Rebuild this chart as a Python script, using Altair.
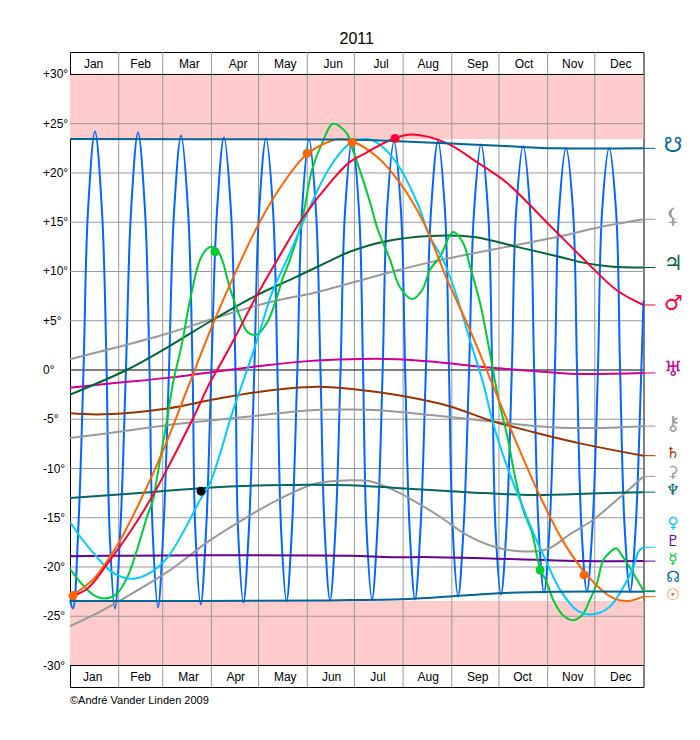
import altair as alt
import pandas as pd

FONT = "Liberation Sans"
months = ["Jan","Feb","Mar","Apr","May","Jun","Jul","Aug","Sep","Oct","Nov","Dec"]
month_edges = [31,59,90,120,151,181,212,243,273,304,334]
top_label_days = [15,45,76,107,137,167.5,198,228,259.5,289,320,350.5]
bot_label_days = [14.5,45,75.5,105.5,137,166.5,196,228,259.5,288,320,350.5]
top_label_dec = 31.1
bot_label_dec = -31.17
y_ticks = [30,25,20,15,10,5,0,-5,-10,-15,-20,-25,-30]
y_tick_text = ["+30°","+25°","+20°","+15°","+10°","+5°","0°","-5°","-10°","-15°","-20°","-25°","-30°"]
y_tick_day = -17.2
gray_levels = [25,20,15,10,5,-5,-10,-15,-20,-25]
black_levels = [30,0,-30]
y_domain = [-32.18, 32.28]
x_domain = [0, 365]

moon_d = [0,1.9,5.3,8.6,11.4,15.9,20.4,23.3,25.1,28.6,32.1,35.6,38.8,43.3,47.8,50.6,52.5,56,59.5,63,66.2,70.7,75.2,78,79.7,83.2,86.7,90,93.5,98,102.5,105.3,106.9,110.4,113.9,117.3,120.3,124.8,129.3,132,134.3,137.8,141.3,144.7,147.6,152.1,156.6,159.4,162,165.5,169,172.2,175,179.5,184,186.5,188.7,192.2,195.7,199,201.7,206.2,210.7,213.3,216.1,219.6,223.1,226.5,229.7,234.2,238.7,241.2,243.5,247,250.5,254,257.1,261.6,266.1,268.7,270.8,274.3,277.8,281.2,283.9,288.4,292.9,295.4,298.2,301.7,305.2,308.6,311.2,315.7,320.2,322.7,325.5,329,332.5,336,338.6,343.1,347.6,350.1,353,356.5,360,363.6,365]
moon_v = [-23.4,-24.2,-16,0,16,24.2,16,0,-16,-24.2,-16,0,16,24.1,16,0,-16,-24.1,-16,0,16,23.8,16,0,-16,-23.8,-16,0,16,23.6,16,0,-16,-23.6,-16,0,16,23.5,16,0,-16,-23.5,-16,0,16,23.4,16,0,-16,-23.4,-16,0,16,23.3,16,0,-16,-23.3,-16,0,16,23.2,16,0,-16,-23.3,-16,0,16,23.2,16,0,-16,-23,-16,0,16,22.9,16,0,-16,-22.8,-16,0,16,22.7,16,0,-16,-22.6,-16,0,16,22.5,16,0,-16,-22.5,-16,0,16,22.5,16,0,-16,-22.5,-16,0,7]

sun_d = [0,15,30,45,60,75,90,105,120,135,150,165,172,180,195,210,225,240,255,270,285,300,315,330,345,355,365]
sun_v = [-23,-21.2,-17.8,-13.2,-7.9,-1.8,4.3,9.8,14.8,18.8,21.8,23.2,23.44,23.2,21.7,19,15,9.2,3.9,-1.9,-7.7,-13.1,-17.7,-21,-23.1,-23.44,-23]

mars_d = [0,11,25.5,38,51,62,78,89,94,104,119,132,148,167,178,189,206,218,240,259,278,304,326,348,365]
mars_v = [-23,-22.2,-19.3,-16.5,-13.2,-10,-5,-1.3,0.1,3,7.6,11.2,15.4,19.3,21.1,22.1,23.5,23.9,23,21.1,19,14.9,11.4,8.1,6.6]

venus_d = [0,6.4,17.2,27.4,40.1,50.9,61.7,71.9,82.8,89.1,103.8,112.7,119,129.2,138.1,152.8,165.5,178.2,191,199.2,210,220.9,229.2,237.4,246.3,254.6,262.9,269.3,278.2,286.4,294,303.6,311.9,322.7,332.9,343.7,352,358.4,362,365]
venus_v = [-15.4,-16.9,-19,-20.6,-21.2,-20.6,-19.1,-16.5,-13.2,-11.5,-4.1,0,3,8.1,11.2,16.6,20.6,23,23.4,22.6,20.5,17,13.5,11.2,7.4,3,-1.3,-5.4,-9.8,-13.2,-16.2,-19.6,-22.3,-24.4,-24.8,-24,-22.1,-20.1,-18.4,-18]

mercury_d = [0,6.4,14.6,22.3,29.9,36.3,42.6,49,52.8,55.4,61.7,65.6,71.3,76.4,82.8,87.2,90.4,93.6,96.8,101.8,108.2,113.3,119,125.4,130.5,135.6,140,147.7,154,160.4,167.4,176.3,180.1,186.5,191,195.4,199.2,203.7,210,217.7,224.1,229.2,235.5,243.8,250.2,254.6,261,267.3,272.4,278.8,283.3,288.4,294,299.2,303.6,307.4,313.8,320.2,325.9,331,335.5,339.3,343.7,347.5,352,358.4,365]
mercury_v = [-20.2,-21.5,-22.8,-23.2,-22.7,-21.1,-18.3,-14.9,-13.2,-10.9,-5.1,-1.3,2.7,7.1,11.2,12.3,12.5,12.2,11.2,8.3,5.4,3.8,3.6,4.8,6.8,9.4,11.2,15.2,20.3,23,25,24,22.3,19.3,17,14.5,12.9,11.2,8.4,7.2,8.1,10.2,11.5,14,12.9,10.5,6.8,1.7,-2.7,-7.1,-10.9,-14.2,-16.5,-20.2,-21.6,-23.3,-24.9,-25.4,-24.9,-23.3,-21.6,-19.3,-18.5,-18.1,-19,-20.6,-22.4]

jupiter_d = [0,36,62,91,119,142,167,178,199,229,257,284.5,314,326.5,344,365]
jupiter_v = [-2.5,0,2.3,5.1,7.6,9.3,11.2,12,13,13.6,13.5,12.5,11.4,10.9,10.5,10.4]

lilith_d = [0,30,62,91,125,157,178,205.6,231,284.5,310,337,365]
lilith_v = [1.1,2.3,3.7,5.2,6.8,7.9,8.8,10,11,12.7,13.5,14.5,15.3]

uranus_d = [0,30,62,91,121,151,178,208,233,263,295,322,365]
uranus_v = [-1.8,-1.3,-0.8,-0.2,0.4,0.9,1.1,1.1,0.8,0.3,-0.1,-0.4,-0.3]

saturn_d = [0,21,62,91,121,157,178,210,242,267,297,326,365]
saturn_v = [-4.4,-4.5,-3.9,-3,-2.2,-1.7,-1.9,-2.6,-3.7,-5.1,-6.4,-7.5,-8.7]

chiron_d = [0,30,62,91,121,151,178,199,231,267,297,326,365]
chiron_v = [-6.9,-6.3,-5.6,-5.1,-4.6,-4.1,-4,-4.1,-4.6,-5.2,-5.7,-5.9,-5.7]

neptune_d = [0,51,83,125,178,210,253,295,337,365]
neptune_v = [-13,-12.4,-12,-11.7,-11.7,-12,-12.4,-12.7,-12.5,-12.4]

ceres_d = [0,17,34,62,89,113,132,157,178,191,206,218,235.5,253,269,286,303.6,318,333,348,365]
ceres_v = [-26,-24.7,-23.2,-20.5,-17.3,-14.9,-13.2,-11.5,-11.2,-11.3,-12.2,-13.2,-14.9,-16.8,-17.9,-18.4,-18.2,-16.7,-15.2,-13.2,-10.8]

pluto_d = [0,36,100,178,205,231,285,326,365]
pluto_v = [-18.9,-18.85,-18.8,-18.85,-19,-19,-19.2,-19.4,-19.4]

snode_d = [0,160,178,206,227,255,280,310,365]
snode_v = [23.45,23.4,23.4,23.25,23.1,22.9,22.7,22.5,22.5]
nnode_d = [0,160,178,206,227,255,280,310,365]
nnode_v = [-23.45,-23.4,-23.35,-23.3,-23.15,-22.85,-22.6,-22.5,-22.5]

series = [
    ("Moon", moon_d, moon_v, "#0066ff"),
    ("Ceres", ceres_d, ceres_v, "#999999"),
    ("Lilith", lilith_d, lilith_v, "#999999"),
    ("Chiron", chiron_d, chiron_v, "#999999"),
    ("Neptune", neptune_d, neptune_v, "#006666"),
    ("Pluto", pluto_d, pluto_v, "#660099"),
    ("Uranus", uranus_d, uranus_v, "#cc0099"),
    ("Saturn", saturn_d, saturn_v, "#993300"),
    ("Jupiter", jupiter_d, jupiter_v, "#006633"),
    ("Mercury", mercury_d, mercury_v, "#00cc33"),
    ("Venus", venus_d, venus_v, "#00ccff"),
    ("Sun", sun_d, sun_v, "#ff6600"),
    ("Mars", mars_d, mars_v, "#ff0033"),
    ("SouthNode", snode_d, snode_v, "#006699"),
    ("NorthNode", nnode_d, nnode_v, "#006699"),
]

glyphs = ["☋","⚸","♃","♂","♅","⚷","♄","⚳","♆","♀","♇","☿","☊","☉"]
glyph_dec = [22.7,15.5,10.8,6.7,0,-5.5,-8.4,-10.4,-12.2,-15.5,-17.4,-19.2,-21,-22.8]
glyph_size = [21,21,21,21,21,20,15.5,15.5,15.5,15.5,15.5,15.5,15.5,15.5]
glyph_col = ["#006699","#999999","#006633","#ff0033","#cc0099","#999999","#993300","#999999","#006666","#00ccff","#660099","#00cc33","#006699","#ff6600"]
stub_dec = [22.5,15.3,10.4,6.6,-0.3,-5.7,-8.7,-10.8,-12.4,-18,-19.4,-22.4,-22.5,-23]
glyph_day = 383.8
stub_start = 365
stub_end = 372.6

dot_d = [1.9,150.9,179.5,327.2,92.3,299.2,206.9,83.4]
dot_v = [-22.9,22,23.1,-20.8,12,-20.3,23.5,-12.3]
dot_c = ["#ff6600","#ff6600","#ff6600","#ff6600","#00cc33","#00cc33","#ff0033","#000000"]

xs = alt.Scale(domain=x_domain, nice=False, zero=False)
ys = alt.Scale(domain=y_domain, nice=False, zero=False)
X = lambda f: alt.X(f, type="quantitative", scale=xs, axis=None)
Y = lambda f: alt.Y(f, type="quantitative", scale=ys, axis=None)

bands = pd.DataFrame({"a": [23.44, -30], "b": [30, -23.44]})
band = alt.Chart(bands).mark_rect(color="#ffcccc").encode(
    y=Y("a"), y2="b:Q", x=alt.value(0), x2=alt.value(573.5))

hgrid = alt.Chart(pd.DataFrame({"v": gray_levels})).mark_rule(color="#999999", strokeWidth=1).encode(
    y=Y("v"), x=alt.value(0), x2=alt.value(573.5))
vgrid = alt.Chart(pd.DataFrame({"d": month_edges})).mark_rule(color="#999999", strokeWidth=1).encode(x=X("d"))
hblack = alt.Chart(pd.DataFrame({"lv": black_levels})).mark_rule(color="#000000", strokeWidth=1, opacity=1).encode(
    y=Y("lv"), x=alt.value(0), x2=alt.value(573.5))
ticks_txt = alt.Chart(pd.DataFrame({"t": y_tick_text, "v": y_ticks, "d": [y_tick_day]*len(y_ticks)})).mark_text(
    font=FONT, fontSize=12, color="#000000", align="left", baseline="middle").encode(
    x=X("d"), y=Y("v"), text="t:N")

layers = [band, hgrid, vgrid, hblack, ticks_txt]
for name, d, v, col in series:
    df = pd.DataFrame({"d": d, "v": v, "o": range(len(d))})
    layers.append(alt.Chart(df).mark_line(color=col, strokeWidth=2, interpolate="catmull-rom", clip=False).encode(
        x=X("d"), y=Y("v"), order="o:Q"))

stubs = pd.DataFrame({"a": [stub_start]*len(stub_dec), "b": [stub_end]*len(stub_dec), "v": stub_dec, "c": glyph_col})
layers.append(alt.Chart(stubs).mark_rule(strokeWidth=1).encode(
    x=X("a"), x2="b:Q", y=Y("v"), color=alt.Color("c:N", scale=None)))

dots = pd.DataFrame({"d": dot_d, "v": dot_v, "c": dot_c})
layers.append(alt.Chart(dots).mark_point(filled=True, size=80, opacity=1).encode(
    x=X("d"), y=Y("v"), color=alt.Color("c:N", scale=None)))

gdf = pd.DataFrame({"g": glyphs, "v": glyph_dec, "c": glyph_col, "d": [glyph_day]*len(glyphs), "s": glyph_size})
layers.append(alt.Chart(gdf).mark_text(font="DejaVu Sans", fontWeight="bold", baseline="middle", align="center").encode(
    x=X("d"), y=Y("v"), text="g:N", color=alt.Color("c:N", scale=None),
    size=alt.Size("s:Q", scale=None, legend=None)))

mt = pd.DataFrame({"m": months + months, "d": top_label_days + bot_label_days,
                   "v": [top_label_dec]*12 + [bot_label_dec]*12})
layers.append(alt.Chart(mt).mark_text(font=FONT, fontSize=12, color="#000000", baseline="middle", align="center").encode(
    x=X("d"), y=Y("v"), text="m:N"))

credit = pd.DataFrame({"t": ["©André Vander Linden 2009"], "d": [0], "v": [-33.6]})
layers.append(alt.Chart(credit).mark_text(font=FONT, fontSize=11, color="#000000", baseline="middle", align="left").encode(
    x=X("d"), y=Y("v"), text="t:N"))

chart = alt.layer(*layers).properties(
    width=573.5, height=635,
    title=alt.TitleParams("2011", font=FONT, fontSize=16, fontWeight="normal", color="#000000", anchor="middle", offset=5),
    autosize="none",
    padding={"left": 62, "top": 44, "right": 48, "bottom": 40},
).configure_view(stroke="#000000", strokeWidth=1)

chart.save("out.html", embed_options={"renderer": "svg", "actions": False})
